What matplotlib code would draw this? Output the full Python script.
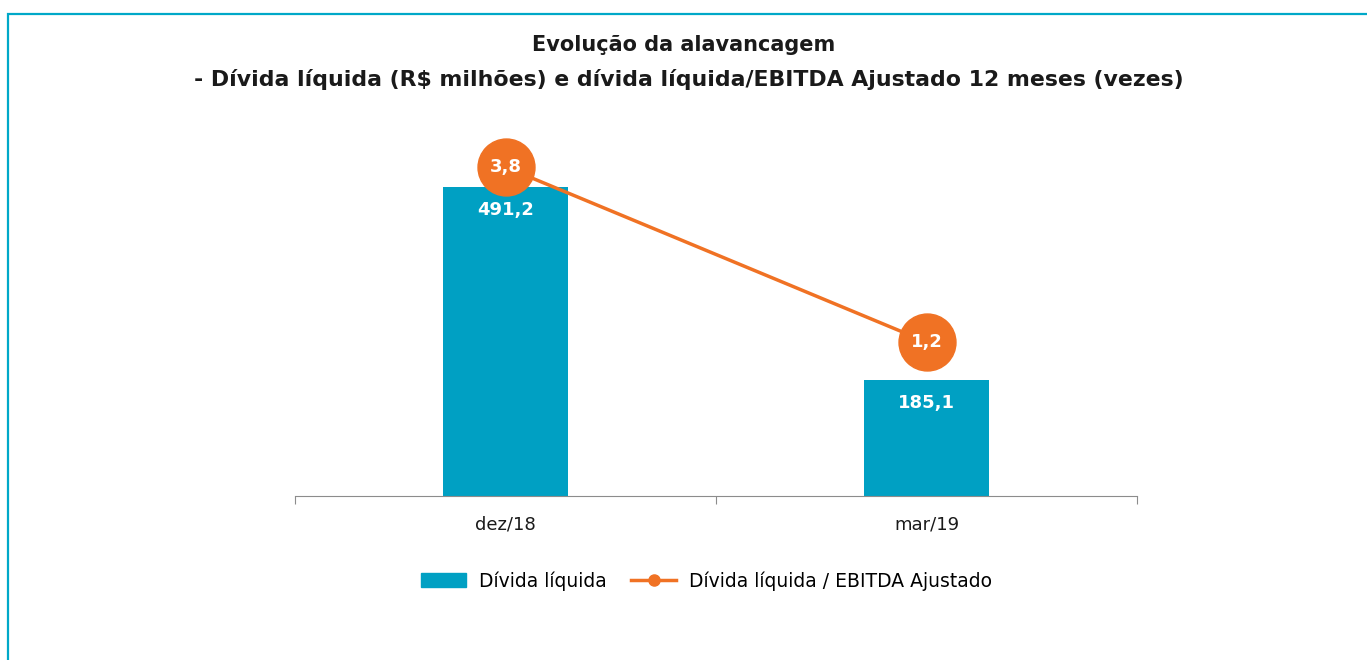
import matplotlib.pyplot as plt
import matplotlib.patches as mpatches
from matplotlib.lines import Line2D
import numpy as np

categories = ['dez/18', 'mar/19']
divida_liquida = [491.2, 185.1]
alavancagem = [3.8, 1.2]

bar_color = '#00A0C3'
line_color = '#F07224'
border_color = '#00A8C8'

plt.rcParams['font.family'] = ['DejaVu Sans']

fig = plt.figure(figsize=(13.67, 6.6), dpi=100)
ax = fig.add_axes([0.2158, 0.2485, 0.616, 0.5718])
x = np.arange(len(categories))

bars = ax.bar(x, divida_liquida, width=0.297, color=bar_color, zorder=2)
for xi, v in zip(x, divida_liquida):
    ax.text(xi, v - 37, f'{v:.1f}'.replace('.', ','), ha='center', va='center',
            color='white', fontsize=13, fontweight='bold', zorder=3)

ax.set_xlim(-0.5, 1.5)
ax.set_ylim(0, 600)
ax.set_yticks([])
for s in ['top', 'right', 'left']:
    ax.spines[s].set_visible(False)
ax.spines['bottom'].set_color('#8c8c8c')
ax.set_xticks([-0.5, 0.5, 1.5], minor=False)
ax.set_xticklabels([])
ax.tick_params(axis='x', length=6, color='#8c8c8c')
for xi, c in zip(x, categories):
    ax.text(xi, -0.075, c, transform=ax.get_xaxis_transform(), ha='center', va='center',
            fontsize=13, color='#1a1a1a')

ax2 = ax.twinx()
ax2.plot(x, alavancagem, color=line_color, lw=2.5, marker='o', markersize=41,
         markeredgecolor=line_color, zorder=4)
for xi, v in zip(x, alavancagem):
    ax2.text(xi, v, f'{v:.1f}'.replace('.', ','), ha='center', va='center',
             color='white', fontsize=13, fontweight='bold', zorder=5)
ax2.set_ylim(-1.09, 4.52)
ax2.axis('off')

fig.text(0.5, 0.932, 'Evolução da alavancagem', ha='center', va='center',
         fontsize=15, fontweight='bold', color='#1a1a1a')
fig.text(0.504, 0.880, '- Dívida líquida (R$ milhões) e dívida líquida/EBITDA Ajustado 12 meses (vezes)',
         ha='center', va='center', fontsize=15.8, fontweight='bold', color='#1a1a1a')

handles = [mpatches.Patch(color=bar_color),
           Line2D([0], [0], color=line_color, lw=2.5, marker='o', markersize=8)]
fig.legend(handles, ['Dívida líquida', 'Dívida líquida / EBITDA Ajustado'],
           loc='center', bbox_to_anchor=(0.517, 0.12), ncol=2, frameon=False,
           fontsize=13.5, handlelength=2.4, columnspacing=1.3, handletextpad=0.7)

fig.add_artist(mpatches.Rectangle((8 / 1367, -0.1), 1.1, 0.9788 + 0.1,
                                  transform=fig.transFigure, fill=False,
                                  edgecolor=border_color, lw=1.6))

fig.savefig('out.png', dpi=100)
